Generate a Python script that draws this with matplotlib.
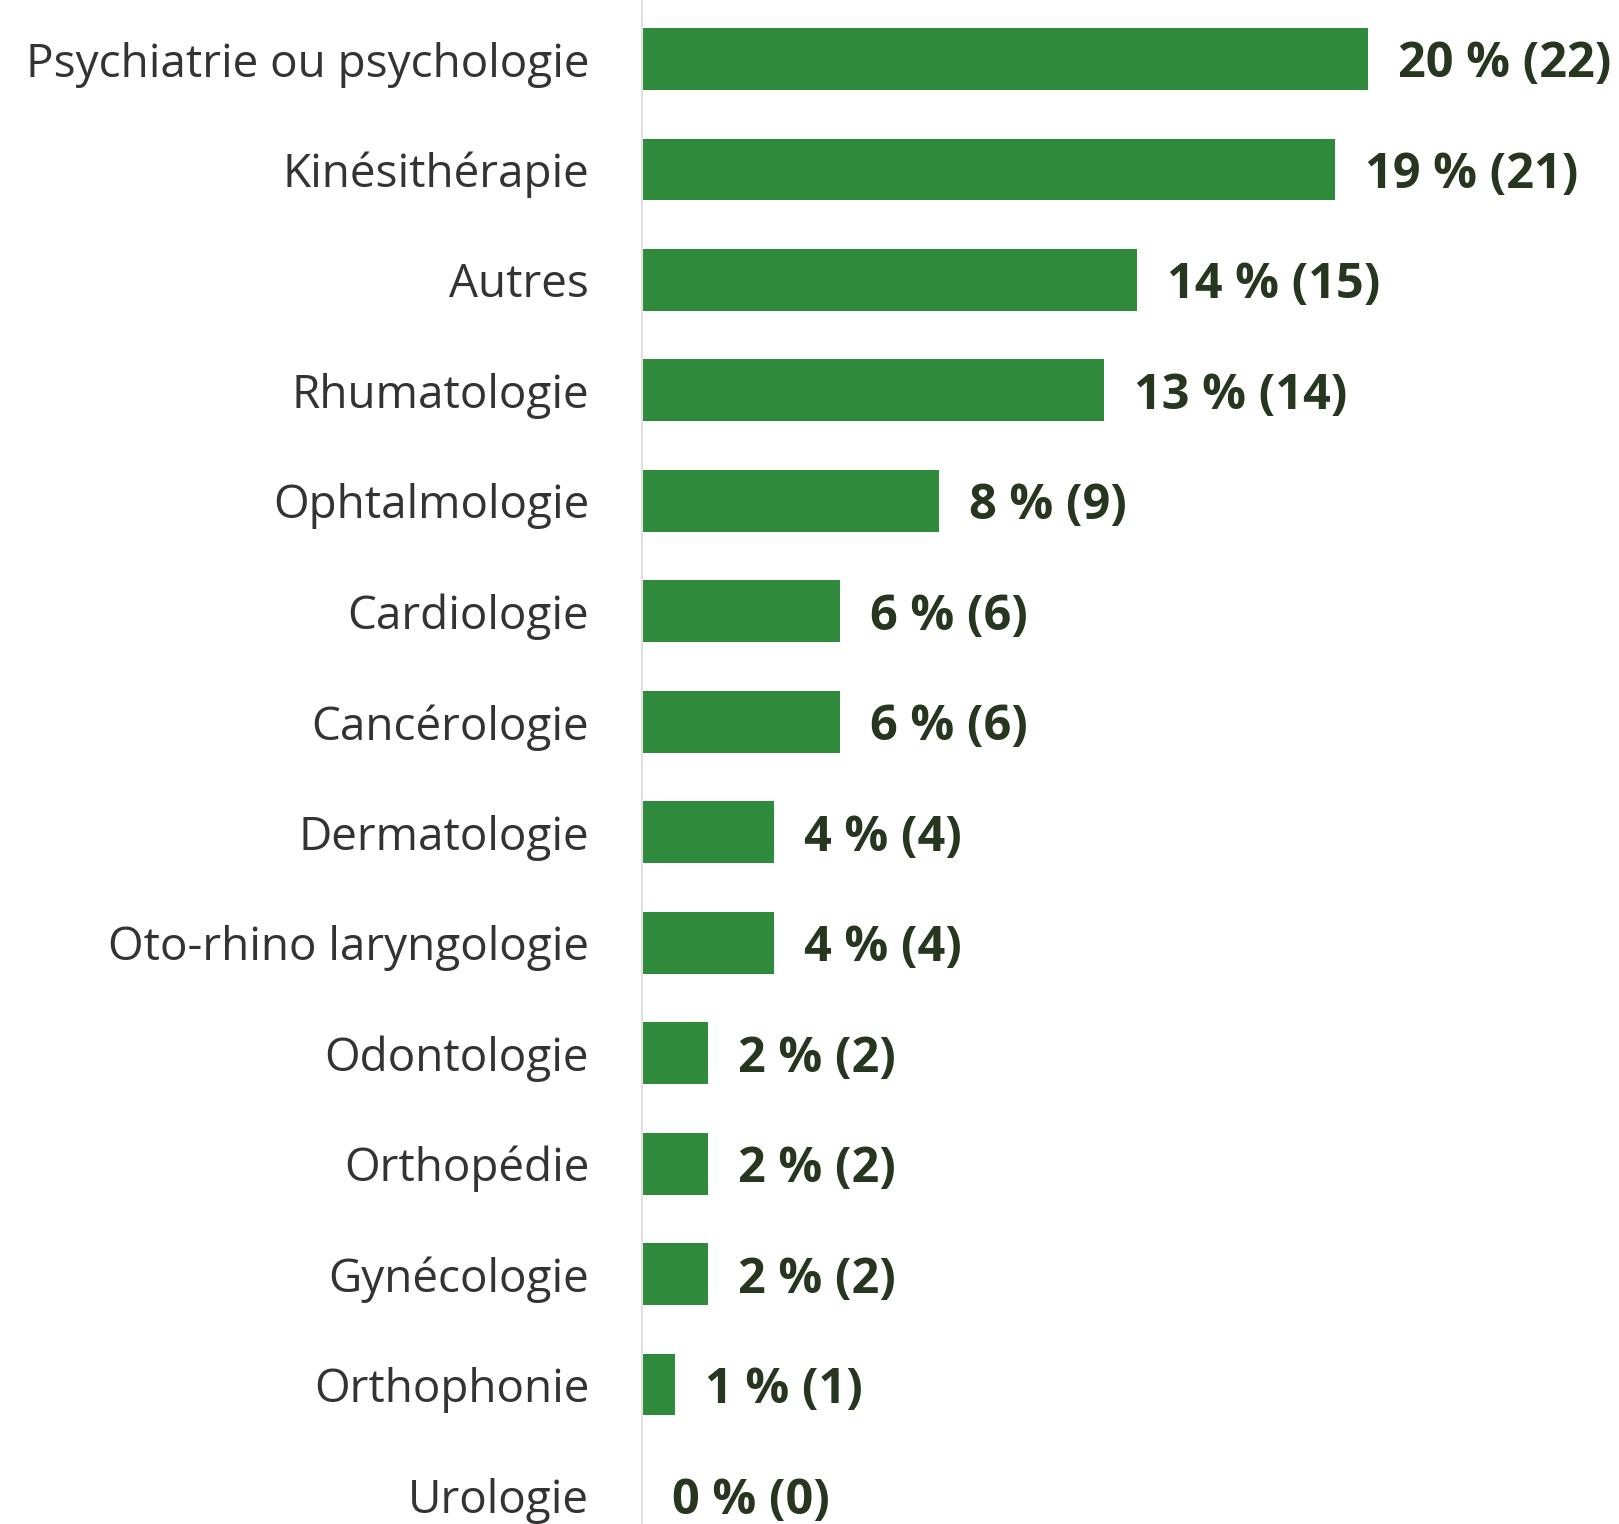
import matplotlib
matplotlib.use("Agg")
import matplotlib.pyplot as plt

categories = ["Psychiatrie ou psychologie", "Kinésithérapie", "Autres", "Rhumatologie",
              "Ophtalmologie", "Cardiologie", "Cancérologie", "Dermatologie",
              "Oto-rhino laryngologie", "Odontologie", "Orthopédie", "Gynécologie",
              "Orthophonie", "Urologie"]
percents = [20, 19, 14, 13, 8, 6, 6, 4, 4, 2, 2, 2, 1, 0]
counts = [22, 21, 15, 14, 9, 6, 6, 4, 4, 2, 2, 2, 1, 0]

W, H = 1619, 1524
dpi = 100
fig = plt.figure(figsize=(W / dpi, H / dpi), dpi=dpi)
left = 642 / W
ax = fig.add_axes([left, 0, 1 - left, 1])

green = "#2f8a3c"
ys = list(range(len(categories)))
ax.barh(ys, counts, height=0.56, color=green)

for y, c, p in zip(ys, counts, percents):
    ax.text(c + 0.9, y, f"{p} % ({c})", va="center_baseline", ha="left",
            fontsize=35, fontweight="bold", color="#27361f", family="Open Sans")

ax.set_yticks(ys)
ax.set_yticklabels(categories, fontsize=33, color="#333333", family="Open Sans")
ax.tick_params(axis="y", length=0, pad=38)
ax.set_xticks([])
ax.set_xlim(0, 29.6)
spacing = (1495 - 59) / 13
ax.set_ylim((H - 59) / spacing, -59 / spacing)
for s in ["top", "right", "bottom"]:
    ax.spines[s].set_visible(False)
ax.spines["left"].set_color("#e0e0e0")
ax.spines["left"].set_linewidth(1.5)

fig.savefig("out.png", dpi=dpi)
